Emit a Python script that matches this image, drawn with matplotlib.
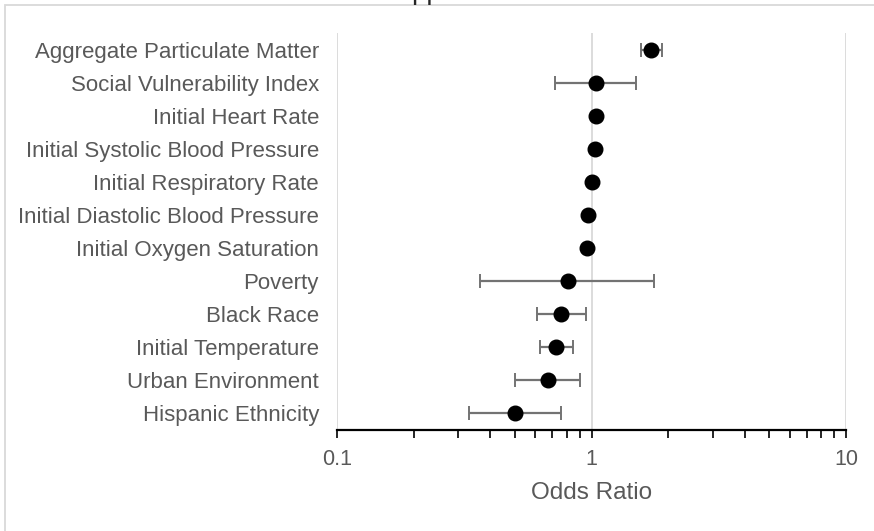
import matplotlib
matplotlib.use("Agg")
import matplotlib.pyplot as plt
from matplotlib.patches import Rectangle
from matplotlib.ticker import LogLocator, FixedLocator, NullFormatter
import numpy as np

plt.rcParams["font.family"] = ["Liberation Sans", "DejaVu Sans"]

# --- data (top to bottom) ---
labels = ["Aggregate Particulate Matter", "Social Vulnerability Index",
          "Initial Heart Rate", "Initial Systolic Blood Pressure",
          "Initial Respiratory Rate", "Initial Diastolic Blood Pressure",
          "Initial Oxygen Saturation", "Poverty", "Black Race",
          "Initial Temperature", "Urban Environment", "Hispanic Ethnicity"]
odds = [1.72, 1.04, 1.04, 1.03, 1.00, 0.973, 0.961, 0.809, 0.759, 0.724, 0.673, 0.50]
ci_low = [1.57, 0.717, 1.03, 1.02, 0.99, 0.965, 0.953, 0.366, 0.611, 0.627, 0.502, 0.329]
ci_high = [1.89, 1.495, 1.05, 1.04, 1.01, 0.981, 0.969, 1.76, 0.949, 0.845, 0.903, 0.757]

TXT = "#595959"
GRID = "#d9d9d9"

fig = plt.figure(figsize=(8.74, 5.31), dpi=100)
ax = fig.add_axes([337 / 874, 101 / 531, 509 / 874, 397 / 531])

n = len(labels)
y = np.arange(n)[::-1]
odds = np.array(odds)
err = np.array([odds - np.array(ci_low), np.array(ci_high) - odds])

ax.errorbar(odds, y, xerr=err, fmt="none", ecolor="#737373", elinewidth=1.6,
            capsize=5, capthick=1.4, zorder=3)
ax.plot(odds, y, "o", color="black", markersize=10.5, zorder=4)

ax.set_xscale("log")
ax.set_xlim(0.1, 10)
ax.set_ylim(-0.5, n - 0.5)
ax.set_yticks(y)
ax.set_yticklabels(labels, fontsize=16, color=TXT)
ax.tick_params(axis="y", length=0, pad=13)

ax.xaxis.set_major_locator(FixedLocator([0.1, 1, 10]))
ax.set_xticklabels(["0.1", "1", "10"])
ax.xaxis.set_minor_locator(LogLocator(base=10, subs=np.arange(2, 10)))
ax.xaxis.set_minor_formatter(NullFormatter())
ax.tick_params(axis="x", which="both", direction="out", length=6, width=1.2,
               color="black", labelsize=15.5, labelcolor=TXT, pad=8)

ax.grid(axis="x", which="major", color=GRID, linewidth=1.3)
ax.set_axisbelow(True)
for s in ("top", "right", "left"):
    ax.spines[s].set_visible(False)
ax.spines["bottom"].set_linewidth(1.6)
ax.spines["bottom"].set_color("black")

ax.set_xlabel("Odds Ratio", fontsize=17.5, color=TXT, labelpad=8)

# chart frame (cropped) and clipped title remnant, as in the source image
fig.patches.append(Rectangle((5 / 874, -0.1), 1.2, (526 / 531) + 0.1,
                             transform=fig.transFigure, fill=False,
                             edgecolor=GRID, linewidth=1.3))
fig.text(427 / 874, 1.0 + 1 / 531, "pp", fontsize=20, color="#262626",
         ha="center", va="baseline")

fig.savefig("out.png", dpi=100, facecolor="white")
